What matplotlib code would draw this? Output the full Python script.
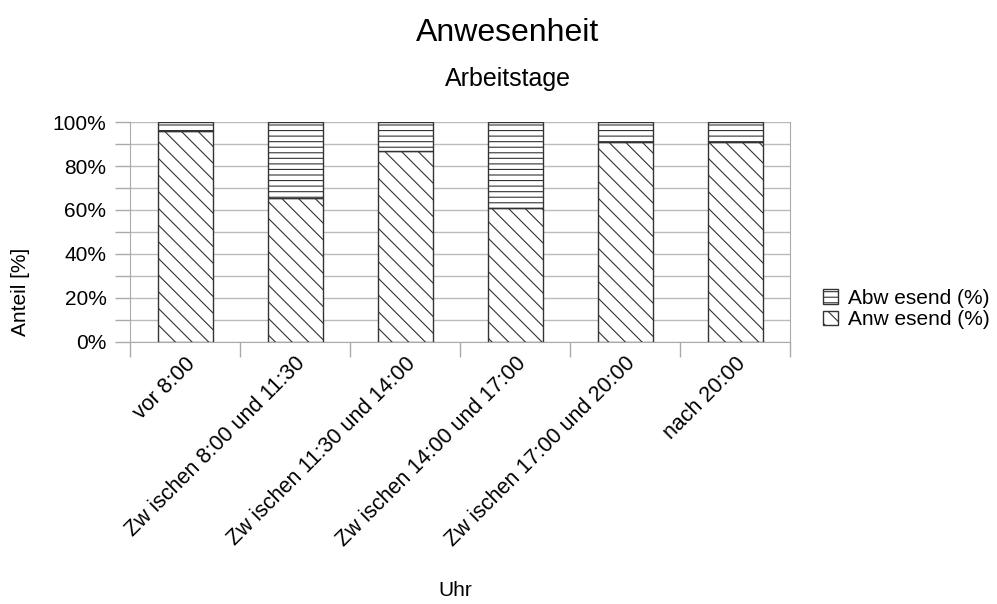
import numpy as np
import matplotlib.pyplot as plt
from matplotlib.ticker import MultipleLocator, FixedLocator

plt.rcParams['font.family'] = ['Liberation Sans', 'DejaVu Sans']
plt.rcParams['hatch.color'] = '#222222'
plt.rcParams['hatch.linewidth'] = 0.8

kategorien = ['vor 8:00', 'Zw ischen 8:00 und 11:30', 'Zw ischen 11:30 und 14:00',
              'Zw ischen 14:00 und 17:00', 'Zw ischen 17:00 und 20:00', 'nach 20:00']
anwesend = [96, 65.5, 87, 61, 91, 91]
abwesend = [100 - a for a in anwesend]

fig = plt.figure(figsize=(9.97, 6.04), dpi=100)
ax = fig.add_axes([0.1304, 0.4338, 0.662, 0.3642])

x = np.arange(len(kategorien))
b1 = ax.bar(x, np.array(anwesend) / 100, width=0.5, color='white', edgecolor='#333333',
            linewidth=1, hatch='\\\\', label='Anw esend (%)', zorder=3)
b2 = ax.bar(x, np.array(abwesend) / 100, bottom=np.array(anwesend) / 100, width=0.5,
            color='white', edgecolor='#333333', linewidth=1, hatch='---',
            label='Abw esend (%)', zorder=3)

ax.set_xlim(-0.5, len(kategorien) - 0.5)
ax.set_ylim(0, 1)
ax.yaxis.set_minor_locator(MultipleLocator(0.1))
ax.set_yticks(np.arange(0, 1.01, 0.2))
ax.set_yticklabels([f'{int(round(v * 100))}%' for v in np.arange(0, 1.01, 0.2)], fontsize=15)
ax.tick_params(axis='y', which='both', length=11, color='#aaaaaa', width=1, pad=6)
ax.grid(axis='y', which='both', color='#bbbbbb', linewidth=1, zorder=0)

ax.set_xticks(x)
ax.set_xticklabels(kategorien, rotation=45, ha='right', rotation_mode='anchor', fontsize=15.5)
ax.tick_params(axis='x', which='major', length=0, pad=8)
ax.xaxis.set_minor_locator(FixedLocator(np.arange(-0.5, len(kategorien), 1)))
ax.tick_params(axis='x', which='minor', length=11, color='#aaaaaa', width=1)

for side in ['left', 'right', 'bottom']:
    ax.spines[side].set_color('#aaaaaa')
ax.spines['top'].set_visible(False)

fig.text(0.021, 0.517, 'Anteil [%]', fontsize=15, rotation=90, ha='center', va='center')
fig.text(0.4565, 0.023, 'Uhr', fontsize=15, ha='center', va='center')
fig.text(0.5095, 0.932, 'Anwesenheit', fontsize=23, ha='center', va='baseline')
fig.text(0.5095, 0.857, 'Arbeitstage', fontsize=18, ha='center', va='baseline')

fig.legend(handles=[b2, b1], loc='center left', bbox_to_anchor=(0.825, 0.488), frameon=False,
           fontsize=15, handlelength=0.72, handleheight=0.72, handletextpad=0.48,
           labelspacing=0.1, borderpad=0, borderaxespad=0)

fig.savefig('out.png', dpi=100)
